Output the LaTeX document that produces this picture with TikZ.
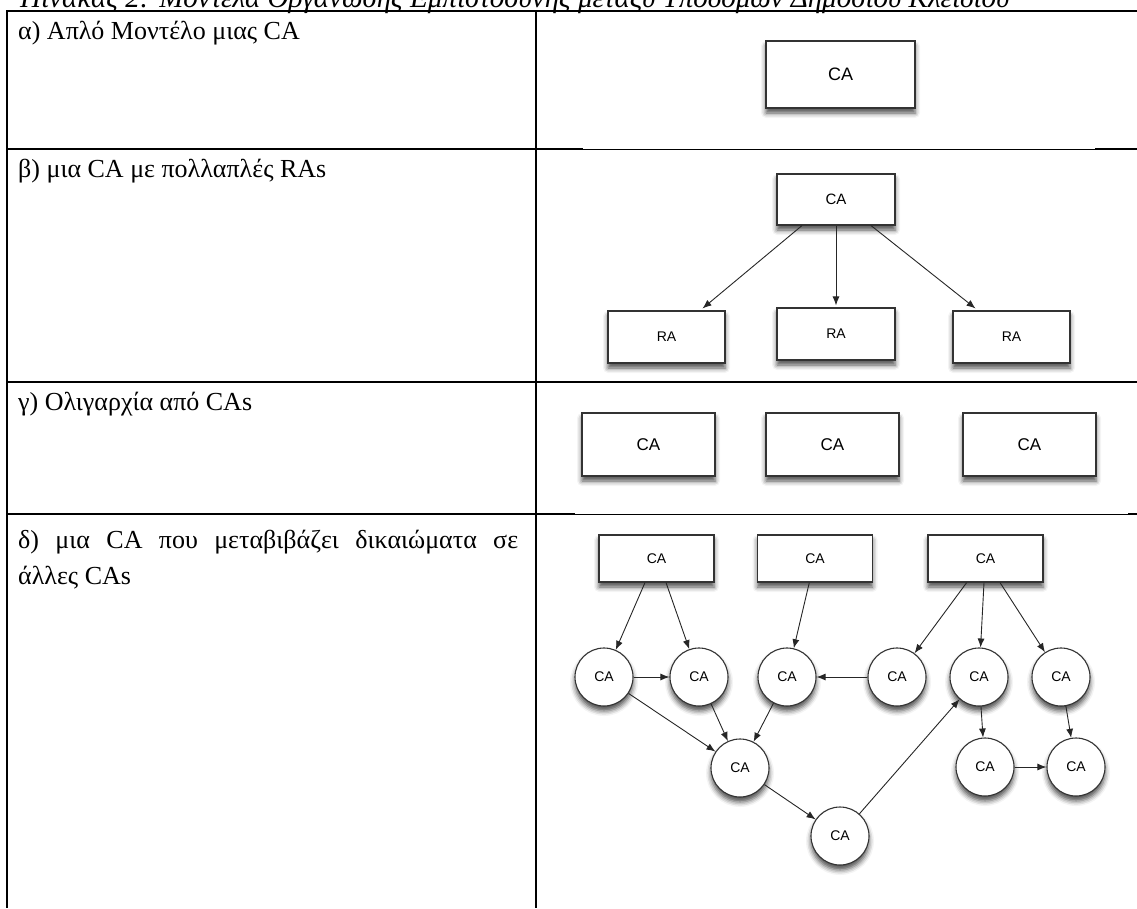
\documentclass[tikz,border=0pt]{standalone}
\usepackage{fontspec}
\setmainfont{Liberation Serif}
\newfontfamily\diagfont{Liberation Sans}
\usetikzlibrary{arrows.meta,shadows.blur}

\begin{document}
\begin{tikzpicture}[x=1pt,y=-1pt,
  thickrule/.style={line width=2pt},
  thinrule/.style={line width=1pt},
  celltext/.style={anchor=base west, inner sep=0pt, font=\fontsize{26}{31}\selectfont},
  soft/.style={blur shadow={shadow xshift=0pt, shadow yshift=-5pt,
      shadow blur radius=5pt, shadow opacity=70}},
  agent/.style={draw=black!80, line width=1.1pt, fill=white, inner sep=0pt,
      font=\diagfont\fontsize{#1}{#1}\selectfont, soft},
  box/.style={agent=#1, rectangle},
  ring/.style={agent=14, circle, minimum size=58pt},
  link/.style={draw=black!85, line width=0.9pt, -{Latex[length=9pt,width=7pt]}},
]
\useasboundingbox (0,0) rectangle (1137,908);
\clip (0,0) rectangle (1137,908);

% caption, partly above the page
\node[celltext, font=\itshape\fontsize{29}{34}\selectfont] (cap) at (20,7)
  {Πίνακας 2: Μοντέλα Οργάνωσης Εμπιστοσύνης μεταξύ Υποδομών Δημοσίου Κλειδιού};

% table rules
\draw[thickrule] (6,10.5) -- (1137,10.5);
\draw[thickrule] (6.5,10) -- (6.5,908);
\draw[thickrule] (536,10) -- (536,908);
\draw[thickrule] (6,149) -- (583,149);
\draw[thinrule] (583,149) -- (1095,149);
\draw[thickrule] (1095,149) -- (1137,149);
\draw[thickrule] (6,382) -- (1137,382);
\draw[thickrule] (6,514) -- (575,514);
\draw[thinrule] (575,514) -- (1128,514);
\draw[thickrule] (1128,513.5) -- (1137,513.5);

% row labels
\node[celltext] (la) at (18,39) {α) Απλό Μοντέλο μιας CA};
\node[celltext] (lb) at (18,177) {β) μια CA με πολλαπλές RAs};
\node[celltext] (lc) at (18,410) {γ) Ολιγαρχία από CAs};
\node[celltext] (ld1) at (18,548) {\makebox[500pt][s]{δ) μια CA που μεταβιβάζει δικαιώματα σε}};
\node[celltext] (ld2) at (18,584) {άλλες CAs};

% a) single CA
\node[box=18, minimum width=149pt, minimum height=67pt] (aca) at (840.5,74.5) {CA};

% b) one CA with several RAs
\node[box=15, minimum width=118pt, minimum height=51pt] (bca) at (836,199.5) {CA};
\node[box=14, minimum width=117pt, minimum height=52pt] (ra1) at (666.5,337) {RA};
\node[box=14, minimum width=118pt, minimum height=52pt] (ra2) at (836,334) {RA};
\node[box=14, minimum width=117pt, minimum height=52pt] (ra3) at (1011.5,337) {RA};
\draw[link] ([xshift=-34pt]bca.south) -- ([xshift=36pt,yshift=2pt]ra1.north);
\draw[link] (bca.south) -- ([yshift=2pt]ra2.north);
\draw[link] ([xshift=35pt]bca.south) -- ([xshift=-36pt,yshift=2pt]ra3.north);

% c) oligarchy of CAs
\node[box=17, minimum width=133pt, minimum height=63pt] (g1) at (648.5,444.5) {CA};
\node[box=17, minimum width=133pt, minimum height=63pt] (g2) at (832.5,444.5) {CA};
\node[box=17, minimum width=133pt, minimum height=63pt] (g3) at (1029.5,444.5) {CA};

% d) delegation between CAs
\node[box=14, minimum width=115pt, minimum height=47pt] (d1) at (656.5,558.5) {CA};
\node[box=14, minimum width=115pt, minimum height=47pt] (d2) at (815,558.5) {CA};
\node[box=14, minimum width=115pt, minimum height=47pt] (d3) at (985.5,558.5) {CA};

\node[ring] (c1) at (604,677) {CA};
\node[ring] (c2) at (699,677) {CA};
\node[ring] (c3) at (787,677) {CA};
\node[ring] (c4) at (897,677) {CA};
\node[ring] (c5) at (979,677) {CA};
\node[ring] (c6) at (1061,677) {CA};
\node[ring] (m) at (740,768) {CA};
\node[ring] (c8) at (985,767) {CA};
\node[ring] (c9) at (1076,767) {CA};
\node[ring] (b) at (840,836) {CA};

\draw[link] ([xshift=-11.5pt]d1.south) -- (c1);
\draw[link] ([xshift=9.5pt]d1.south) -- (c2);
\draw[link] ([xshift=-5.7pt]d2.south) -- (c3);
\draw[link] ([xshift=-18.8pt]d3.south) -- (c4);
\draw[link] ([xshift=-1.5pt]d3.south) -- (c5);
\draw[link] ([xshift=14.5pt]d3.south) -- (c6);
\draw[link] (c1) -- (c2);
\draw[link] (c4) -- (c3);
\draw[link] (c1) -- (m);
\draw[link] (c2) -- (m);
\draw[link] (c3) -- (m);
\draw[link] (m) -- (b);
\draw[link] (b) -- (c5);
\draw[link] (c5) -- (c8);
\draw[link] (c6) -- (c9);
\draw[link] (c8) -- (c9);
\end{tikzpicture}
\end{document}
